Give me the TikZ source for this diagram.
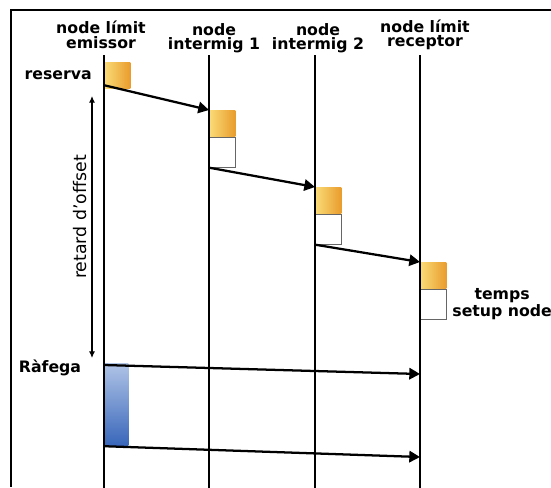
\documentclass[tikz,border=0pt]{standalone}
\usepackage{fontspec}
\setmainfont{DejaVu Sans}
\usepackage{tikz}
\usetikzlibrary{positioning,arrows.meta}

\definecolor{resL}{RGB}{250,220,120}
\definecolor{resR}{RGB}{233,156,44}
\definecolor{burstT}{RGB}{176,196,230}
\definecolor{burstB}{RGB}{56,102,186}

\tikzset{
  lifeline/.style={line width=1.8pt},
  msg/.style={line width=1.7pt,-{Triangle[length=8pt,width=8.5pt]}},
  resbox/.style={anchor=north west,inner sep=0pt,minimum width=19.5pt,minimum height=19.5pt,left color=resL,right color=resR},
  setupbox/.style={inner sep=0pt,minimum width=19.5pt,minimum height=22.5pt,draw=black!60,line width=0.8pt,fill=white},
  burstbox/.style={anchor=north west,inner sep=0pt,minimum width=18pt,minimum height=62pt,top color=burstT,bottom color=burstB},
  lbl/.style={font=\bfseries\fontsize{11.8}{10.8}\selectfont,align=center,inner sep=0pt},
}

\begin{document}
\begin{tikzpicture}[x=0.75pt,y=0.75pt,yscale=-1,xscale=1]
\useasboundingbox (0,0) rectangle (551,487);
\clip (0,0) rectangle (551,487);

%Frame
\draw [line width=0.9pt] (551,10) -- (11,10) -- (11,487) ;

%Shape: Rectangle (reserva)
\node [resbox] (res1) at (104,62) {};
\node [resbox] (res2) at (209,110) {};
\node [setupbox, below=0pt of res2] (set2) {};
\node [resbox] (res3) at (315,187) {};
\node [setupbox, below=0pt of res3] (set3) {};
\node [resbox] (res4) at (420,262) {};
\node [setupbox, below=0pt of res4] (set4) {};
%Shape: Rectangle (rafega)
\node [burstbox] (burst) at (104,363) {};

%Straight Lines (lifelines)
\foreach \x/\n in {104/emi,209/inta,315/intb,420/rec}{
  \coordinate (\n) at (\x,55);
  \coordinate (\n end) at (\x,490);
  \draw [lifeline] (\n) -- (\n end);
}

%Straight Lines (reserva)
\draw [msg] ([yshift=-2.5pt]res1.south west) -- (res2.north west) ;
\draw [msg] (set2.south west) -- (res3.north west) ;
\draw [msg] (set3.south west) -- (res4.north west) ;

%Straight Lines (rafega)
\coordinate (rcv1) at (420,374);
\coordinate (rcv2) at (420,457);
\draw [msg] ([yshift=1.5pt]burst.north west) -- (rcv1) ;
\draw [msg] (burst.south west) -- (rcv2) ;

%Straight Lines (offset)
\coordinate (off1) at (92,96);
\coordinate (off2) at (92,358);
\draw [line width=0.8pt, {Latex[length=5pt,width=4.5pt]}-{Latex[length=5pt,width=4.5pt]}] (off1) -- (off2) ;

% Text Node
\node [lbl] (h1) at (101,35) {node límit\\emissor};
% Text Node
\node [lbl] (h2) at (214,38) {node\\intermig 1};
% Text Node
\node [lbl] (h3) at (318,38) {node\\intermig 2};
% Text Node
\node [lbl] (h4) at (425,35) {node límit\\receptor};
% Text Node
\node [lbl, left=9pt of res1] (reserva) {reserva};
% Text Node
\node [lbl] (rafega) at (50,368) {Ràfega};
% Text Node
\node [lbl, right=4pt of set4] (temps) {temps\\setup node};
% Text Node
\node [font=\fontsize{13}{13}\selectfont, rotate=90, inner sep=0pt] (retard) at (80,217) {retard d'offset};

\end{tikzpicture}
\end{document}
